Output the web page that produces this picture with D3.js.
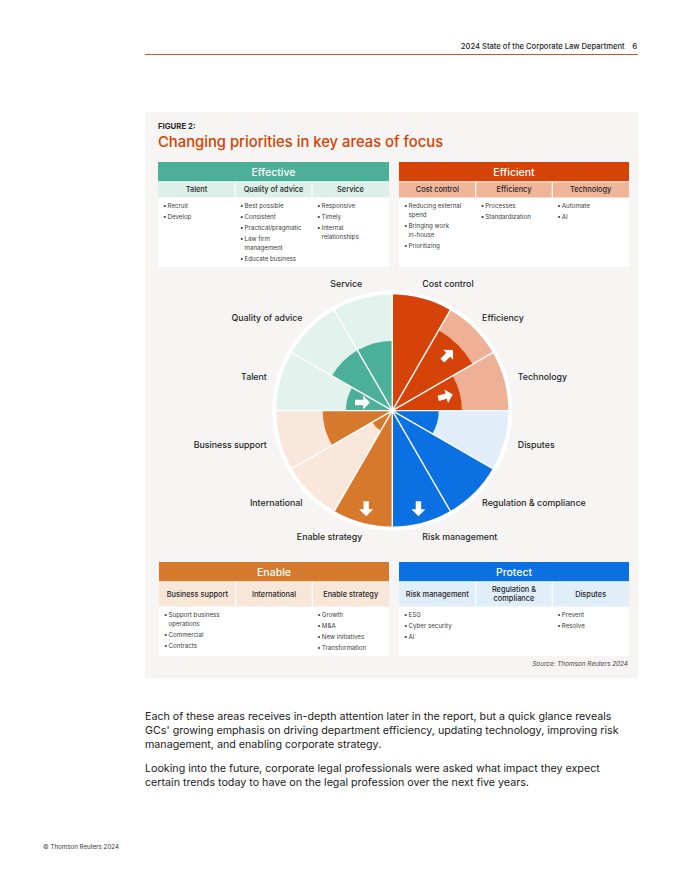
<!DOCTYPE html>
<html><head><meta charset="utf-8">
<script src="https://cdn.jsdelivr.net/npm/d3@7/dist/d3.min.js"></script>
<style>
body{margin:0;background:#fff;}
svg{display:block;font-family:Inter,"Noto Sans",sans-serif;}
</style>
</head><body>
<svg id="c" width="680" height="880"></svg>
<script>
// ---------------- DATA ----------------
const sectorNames = ["Cost control","Efficiency","Technology","Disputes","Regulation & compliance","Risk management","Enable strategy","International","Business support","Talent","Quality of advice","Service"];
const sectorScores = [5,4,3,2,5,5,5,1,3,2,3,3];
const sectorGroups = ["Efficient","Efficient","Efficient","Protect","Protect","Protect","Enable","Enable","Enable","Effective","Effective","Effective"];
const trendSectors = ["Efficiency","Technology","Talent","Enable strategy","Risk management"];
const trendBearings = [45,75,90,180,180];
const maxScore = 5;

const effectiveColumns = ["Talent","Quality of advice","Service"];
const effectiveBullets = [[["Recruit"],["Develop"]],[["Best possible"],["Consistent"],["Practical/pragmatic"],["Law firm","management"],["Educate business"]],[["Responsive"],["Timely"],["Internal","relationships"]]];
const efficientColumns = ["Cost control","Efficiency","Technology"];
const efficientBullets = [[["Reducing external","spend"],["Bringing work","in-house"],["Prioritizing"]],[["Processes"],["Standardization"]],[["Automate"],["AI"]]];
const enableColumns = [["Business support"],["International"],["Enable strategy"]];
const enableBullets = [[["Support business","operations"],["Commercial"],["Contracts"]],[],[["Growth"],["M&A"],["New initiatives"],["Transformation"]]];
const protectColumns = [["Risk management"],["Regulation &","compliance"],["Disputes"]];
const protectBullets = [[["ESG"],["Cyber security"],["AI"]],[],[["Prevent"],["Resolve"]]];

const pageHeader = "2024 State of the Corporate Law Department";
const pageNumber = "6";
const figureLabel = "FIGURE 2:";
const figureTitle = "Changing priorities in key areas of focus";
const sourceNote = "Source: Thomson Reuters 2024";
const paragraph1 = ["Each of these areas receives in-depth attention later in the report, but a quick glance reveals","GCs' growing emphasis on driving department efficiency, updating technology, improving risk","management, and enabling corporate strategy."];
const paragraph2 = ["Looking into the future, corporate legal professionals were asked what impact they expect","certain trends today to have on the legal profession over the next five years."];
const footerText = "© Thomson Reuters 2024";

// ---------------- STYLE ----------------
const palette = {
  Effective:{dark:"#4caf97", light:"#e2f2ed", sub:"#dcefe9"},
  Efficient:{dark:"#d64309", light:"#efb195", sub:"#f0b598"},
  Enable:{dark:"#d7792c", light:"#f8e7da", sub:"#f8e6d8"},
  Protect:{dark:"#0b70e1", light:"#e1eefa", sub:"#e0eefa"}
};
const svg = d3.select("#c");
const ink = "#262626";

// page header
svg.append("text").attr("x",637).attr("y",49).attr("text-anchor","end")
  .attr("font-size",7.6).attr("fill",ink).attr("font-weight",500)
  .text(pageHeader + "\u2003" + pageNumber);
svg.append("line").attr("x1",145).attr("x2",638).attr("y1",54.5).attr("y2",54.5)
  .attr("stroke","#d9531e").attr("stroke-width",1);

// panel
svg.append("rect").attr("x",145).attr("y",112).attr("width",493).attr("height",566).attr("fill","#f6f5f3");
svg.append("text").attr("x",158).attr("y",129).attr("font-size",7.8).attr("font-weight",700).attr("fill",ink).text(figureLabel);
svg.append("text").attr("x",158).attr("y",146.5).attr("font-size",14.8).attr("font-weight",500).attr("fill","#d64000").text(figureTitle);

// tables
function drawTable(x, y, w, name, columns, bullets, hH, sH, bH){
  const g = svg.append("g");
  const col = palette[name];
  g.append("rect").attr("x",x).attr("y",y).attr("width",w).attr("height",hH).attr("fill",col.dark);
  g.append("text").attr("x",x+w/2).attr("y",y+hH/2).attr("dy","0.36em").attr("text-anchor","middle")
    .attr("font-size",10.5).attr("font-weight",500).attr("fill","#fff").text(name);
  const xb = d3.scaleBand().domain(d3.range(columns.length)).range([x,x+w]);
  g.append("rect").attr("x",x).attr("y",y+hH).attr("width",w).attr("height",sH+bH).attr("fill","#fff");
  columns.forEach((c,i)=>{
    const lines = Array.isArray(c)?c:[c];
    g.append("rect").attr("x",xb(i)+(i?0.6:0)).attr("y",y+hH+0.8).attr("width",xb.bandwidth()-(i?0.6:0)-(i<columns.length-1?0.6:0)).attr("height",sH-0.8).attr("fill",col.sub);
    const t = g.append("text").attr("text-anchor","middle").attr("font-size",7.4).attr("font-weight",500).attr("fill",ink);
    const lh = 9.3, y0 = y+hH+sH/2 - (lines.length-1)*lh/2;
    lines.forEach((l,k)=>t.append("tspan").attr("x",xb(i)+xb.bandwidth()/2).attr("y",y0+k*lh).attr("dy","0.35em").text(l));
    let yy = y+hH+sH+10.5;
    (bullets[i]||[]).forEach(item=>{
      const bt = g.append("text").attr("font-size",6.2).attr("fill","#3a3a3a");
      bt.append("tspan").attr("x",xb(i)+5).attr("y",yy).text("\u2022");
      item.forEach((l,k)=>bt.append("tspan").attr("x",xb(i)+9.5).attr("y",yy+k*9).text(l));
      yy += 11 + (item.length-1)*9;
    });
  });
}
drawTable(158,162,231,"Effective",effectiveColumns,effectiveBullets,19.5,16,69.5);
drawTable(399,162,230,"Efficient",efficientColumns,efficientBullets,19.5,16,69.5);
drawTable(159,562,230,"Enable",enableColumns,enableBullets,19.5,25,49.5);
drawTable(399,562,230,"Protect",protectColumns,protectBullets,19.5,25,49.5);

svg.append("text").attr("x",628).attr("y",666).attr("text-anchor","end").attr("font-size",6.4)
  .attr("font-style","italic").attr("fill","#444").text(sourceNote);

// polar chart
const cx = 392.3, cy = 410.6, R = 116;
const ang = d3.scaleBand().domain(sectorNames).range([0,2*Math.PI]);
const rad = d3.scaleLinear().domain([0,maxScore]).range([0,R]);
const arc = d3.arc();
const chart = svg.append("g").attr("transform",`translate(${cx},${cy})`);
chart.append("circle").attr("r",R+4).attr("fill","#fff");
sectorNames.forEach((n,i)=>{
  const a0 = ang(n), a1 = a0+ang.bandwidth(), p = palette[sectorGroups[i]];
  chart.append("path").attr("d",arc({innerRadius:0,outerRadius:R,startAngle:a0,endAngle:a1})).attr("fill",p.light);
  chart.append("path").attr("d",arc({innerRadius:0,outerRadius:rad(sectorScores[i]),startAngle:a0,endAngle:a1})).attr("fill",p.dark);
});
sectorNames.forEach(n=>{
  const a = ang(n);
  chart.append("line").attr("x1",0).attr("y1",0).attr("x2",R*Math.sin(a)).attr("y2",-R*Math.cos(a))
    .attr("stroke","#fff").attr("stroke-width",1.4);
});
// trend arrows
trendSectors.forEach((n,j)=>{
  const i = sectorNames.indexOf(n);
  const a = ang(n)+ang.bandwidth()/2, r = rad(sectorScores[i]) - 15;
  chart.append("path").attr("d","M0,-8L7,-1.2L2.7,-1.2L2.7,7L-2.7,7L-2.7,-1.2L-7,-1.2Z")
    .attr("fill","#fff")
    .attr("transform",`translate(${r*Math.sin(a)},${-r*Math.cos(a)}) rotate(${trendBearings[j]})`);
});
// labels
sectorNames.forEach(n=>{
  const a = ang(n)+ang.bandwidth()/2, rl = 131;
  const s = Math.sin(a);
  chart.append("text").attr("x",rl*s - Math.sign(s)*4*Math.abs(Math.cos(a))).attr("y",-rl*Math.cos(a)).attr("dy","0.35em")
    .attr("text-anchor", s>0?"start":"end").attr("font-size",8.8).attr("font-weight",500).attr("fill",ink).text(n);
});

// body text
function para(lines, y0){
  const t = svg.append("text").attr("font-size",10.7).attr("fill","#222");
  lines.forEach((l,k)=>t.append("tspan").attr("x",145).attr("y",y0+k*14.3).text(l));
}
para(paragraph1, 719.5);
para(paragraph2, 772);
svg.append("text").attr("x",43).attr("y",849).attr("font-size",6.2).attr("fill","#333").text(footerText);
</script>
</body></html>
